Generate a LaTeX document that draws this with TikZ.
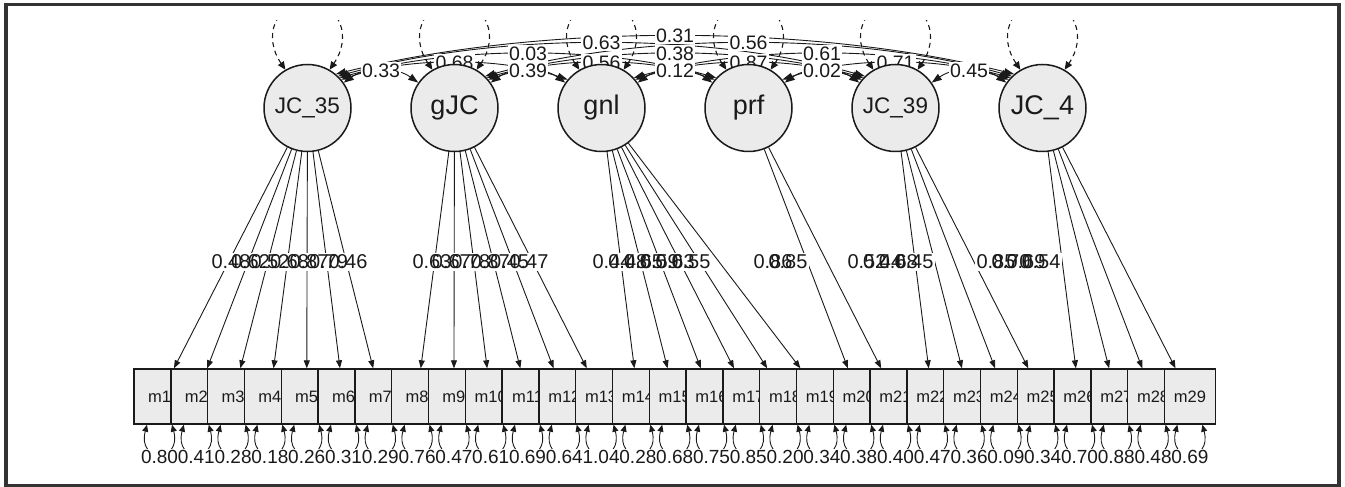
\documentclass[tikz,border=0pt]{standalone}
\usepackage{fontspec}
\setmainfont{Liberation Sans}
\usetikzlibrary{arrows.meta,calc}
\pgfdeclarelayer{edgelayer}
\pgfdeclarelayer{lblbg}
\pgfdeclarelayer{lbltext}
\pgfsetlayers{edgelayer,lblbg,lbltext,main}
\definecolor{boxfill}{HTML}{EBEBEB}
\definecolor{framec}{HTML}{333333}
\definecolor{inkc}{HTML}{1A1A1A}

\tikzset{
  lat/.style={circle, draw=inkc, line width=1.5pt, fill=boxfill, minimum size=87pt, inner sep=0pt, text=inkc, font=\fontsize{27}{27}\selectfont},
  latsmall/.style={lat, font=\fontsize{22.5}{22.5}\selectfont},
  mbox/.style={rectangle, draw=inkc, line width=1.4pt, fill=boxfill, minimum width=51pt, minimum height=55pt, inner sep=0pt, text=inkc, font=\fontsize{16.5}{16.5}\selectfont},
  covarrow/.style={draw=inkc, line width=0.9pt, {Triangle[length=10pt,width=7pt]}-{Triangle[length=10pt,width=7pt]}},
  loadarrow/.style={draw=inkc, line width=0.9pt, -{Triangle[length=8pt,width=6pt]}},
  residarrow/.style={draw=inkc, line width=0.9pt, {Triangle[length=7pt,width=6pt]}-{Triangle[length=7pt,width=6pt]}},
  varloop/.style={draw=inkc, line width=1.1pt, dash pattern=on 5pt off 4pt, {Triangle[length=8pt,width=7pt]}-{Triangle[length=8pt,width=7pt]}},
  covlbl/.style={inner sep=1.5pt, text=inkc, font=\fontsize{19.5}{19.5}\selectfont},
  loadlbl/.style={inner sep=1.5pt, text=inkc, font=\fontsize{20}{20}\selectfont},
  reslbl/.style={inner sep=1pt, text=inkc, font=\fontsize{19}{19}\selectfont},
}

\newcommand\edgelabel[4]{%
  \begin{pgfonlayer}{lblbg}\node[#3, fill=white] (#1bg) at (#2) {\phantom{#4}};\end{pgfonlayer}%
  \begin{pgfonlayer}{lbltext}\node[#3] (#1) at (#2) {#4};\end{pgfonlayer}}

\newcommand\covedge[6]{%
  \pgfmathtruncatemacro\myangB{180-#3}%
  \begin{pgfonlayer}{edgelayer}
  \draw[covarrow] (n#1.#3) .. controls +(#4,#5) and +(-#4,#5) .. (n#2.\myangB) coordinate[pos=0.5] (c#1#2);
  \end{pgfonlayer}%
  \edgelabel{cl#1#2}{c#1#2}{covlbl}{#6}}

\begin{document}
\begin{tikzpicture}[x=1pt,y=1pt]
\useasboundingbox (0,0) rectangle (1345,487);

% latent variables
\node[latsmall] (n1) at (307.5,379) {JC\_35};
\node[lat] (n2) at (454.5,379) {gJC};
\node[lat] (n3) at (601.5,379) {gnl};
\node[lat] (n4) at (748.5,379) {prf};
\node[latsmall] (n5) at (895.5,379) {JC\_39};
\node[lat] (n6) at (1042.5,379) {JC\_4};

% manifest variables
\foreach \i in {1,...,29} {
  \pgfmathsetmacro\xx{159.5+36.8*(\i-1)}
  \node[mbox] (m\i) at (\xx,90.5) {m\i};
}

% latent variance loops
\begin{pgfonlayer}{edgelayer}
\begin{scope}
\clip (0,0) rectangle (1345,466);
\foreach \i in {1,...,6} {
  \coordinate (t\i) at ($(n\i)+(0,106)$);
  \draw[varloop] (n\i.120) .. controls +(-22,32) and +(-34,-2) .. (t\i) .. controls +(34,-2) and +(22,32) .. (n\i.60);
}
\end{scope}
\end{pgfonlayer}

% covariances
\covedge{1}{2}{35}{22.7}{16.1}{0.33}
\covedge{2}{3}{35}{22.7}{16.1}{0.39}
\covedge{3}{4}{35}{22.7}{16.1}{0.12}
\covedge{4}{5}{35}{22.7}{16.1}{0.02}
\covedge{5}{6}{35}{22.7}{16.1}{0.45}
\covedge{1}{3}{40}{68}{22.7}{0.68}
\covedge{2}{4}{40}{68}{22.7}{0.56}
\covedge{3}{5}{40}{68}{22.7}{0.87}
\covedge{4}{6}{40}{68}{22.7}{0.71}
\covedge{1}{4}{43}{113}{32.4}{0.03}
\covedge{2}{5}{43}{113}{32.4}{0.38}
\covedge{3}{6}{43}{113}{32.4}{0.61}
\covedge{1}{5}{46}{158}{44.3}{0.63}
\covedge{2}{6}{46}{158}{44.3}{0.56}
\covedge{1}{6}{50}{204}{50.9}{0.31}

% loadings
\begin{pgfonlayer}{edgelayer}
\foreach \i in {1,...,7} {\draw[loadarrow] (n1) -- (m\i);}
\foreach \i in {8,...,13} {\draw[loadarrow] (n2) -- (m\i);}
\foreach \i in {14,...,19} {\draw[loadarrow] (n3) -- (m\i);}
\foreach \i in {20,21} {\draw[loadarrow] (n4) -- (m\i);}
\foreach \i in {22,...,25} {\draw[loadarrow] (n5) -- (m\i);}
\foreach \i in {26,...,29} {\draw[loadarrow] (n6) -- (m\i);}
\end{pgfonlayer}

\foreach \m/\x/\v in {1/231/0.48, 2/250.5/0.62, 3/270/0.52, 4/289.5/0.68, 5/309/0.87, 6/328.5/0.79, 7/348/0.46,
  8/432/0.63, 9/451.4/0.67, 10/470.8/0.78, 11/490.2/0.87, 12/509.6/0.45, 13/529/0.47,
  14/612/0.44, 15/627.8/0.48, 16/643.6/0.65, 17/659.4/0.59, 18/675.2/0.63, 19/691/0.55,
  20/773/0.86, 21/788/0.85,
  22/867/0.52, 23/882.7/0.44, 24/898.3/0.68, 25/914/0.45,
  26/996/0.85, 27/1011/0.70, 28/1026/0.69, 29/1041/0.54} {
  \edgelabel{ll\m}{\x,225}{loadlbl}{\v}
}

% residuals
\foreach \i/\v in {1/0.80, 2/0.41, 3/0.28, 4/0.18, 5/0.26, 6/0.31, 7/0.29, 8/0.76, 9/0.47, 10/0.61,
  11/0.69, 12/0.64, 13/1.04, 14/0.28, 15/0.68, 16/0.75, 17/0.85, 18/0.20, 19/0.34, 20/0.38,
  21/0.40, 22/0.47, 23/0.36, 24/0.09, 25/0.34, 26/0.70, 27/0.88, 28/0.48, 29/0.69} {
  \begin{pgfonlayer}{edgelayer}
  \draw[residarrow] ([xshift=-12.5pt]m\i.south) .. controls +(-10,-38) and +(10,-38) .. ([xshift=12.5pt]m\i.south);
  \end{pgfonlayer}
  \edgelabel{rl\i}{$(m\i.south)+(0,-32)$}{reslbl}{\v}
}

% frame
\draw[framec, line width=3.5pt] (6,1) rectangle (1339,482.3);
\end{tikzpicture}
\end{document}
